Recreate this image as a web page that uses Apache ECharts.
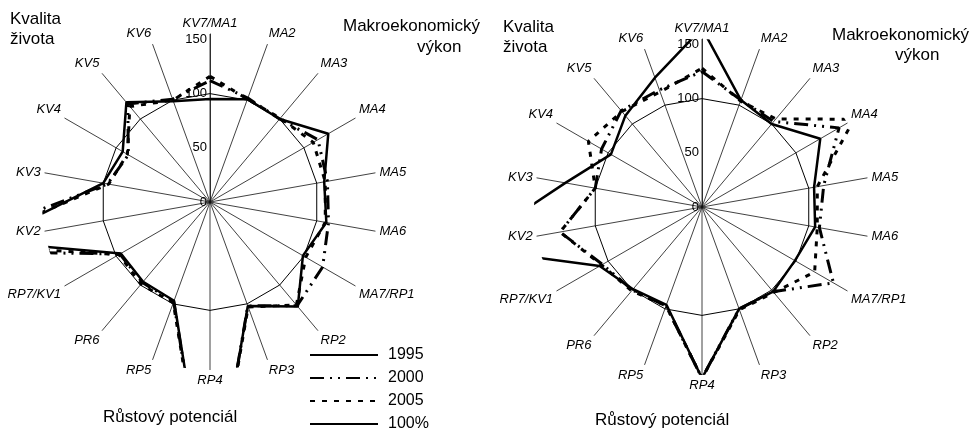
<!DOCTYPE html>
<html lang="cs">
<head>
<meta charset="UTF-8">
<title>Radar 1995-2005</title>
<style>
  html, body { margin: 0; padding: 0; background: #fff; }
  #chart { width: 969px; height: 431px; }
</style>
</head>
<body>
<div id="chart"></div>
<script src="https://cdn.jsdelivr.net/npm/echarts@6/dist/echarts.min.js"></script>
<script>
// osy (po smeru hodinovych rucicek od vrchu)
var osy = ['KV7/MA1', 'MA2', 'MA3', 'MA4', 'MA5', 'MA6', 'MA7/RP1', 'RP2', 'RP3', 'RP4',
           'RP5', 'PR6', 'RP7/KV1', 'KV2', 'KV3', 'KV4', 'KV5', 'KV6'];
var roky = ['1995', '2000', '2005', '100%'];
var osaMax = 155, osaKrok = 50;

// levy graf
var levy1995 = [95, 101, 100, 126, 107, 109, 99, 126, 102, 300, 97, 96, 95, 210, 100, 93, 120, 99];
var levy2000 = [112, 102, 100, 115, 110, 111, 120, 125, 102, 300, 98, 97, 96, 260, 96, 87, 118, 101];
var levy2005 = [116, 101, 101, 110, 108, 108, 102, 124, 103, 300, 99, 99, 97, 230, 95, 88, 115, 100];
// pravy graf
var pravy1995 = [165, 105, 100, 126, 105, 106, 99, 102, 100, 158, 96, 99, 109, 220, 128, 97, 110, 127];
var pravy2000 = [125, 105, 103, 146, 114, 110, 140, 102, 100, 158, 97, 100, 106, 133, 100, 107, 116, 115];
var pravy2005 = [128, 104, 106, 162, 108, 108, 120, 103, 101, 158, 97, 101, 107, 133, 100, 121, 115, 113];
var sto = [100, 100, 100, 100, 100, 100, 100, 100, 100, 100, 100, 100, 100, 100, 100, 100, 100, 100];

var pismo = '"Liberation Sans", Arial, sans-serif';
var styly = {
    '1995': { width: 2.5, type: 'solid' },
    '2000': { width: 3, type: [14, 6, 2, 6, 2, 6] },
    '2005': { width: 3, type: [5, 7] },
    '100%': { width: 1, type: 'solid' }
};

// body [r, uhel] + uzavreni kruhu
function rada(hodnoty) {
    var d = hodnoty.map(function (v, i) { return [v, i]; });
    d.push([hodnoty[0], hodnoty.length]);
    return d;
}

function serie(nazev, hodnoty, idx) {
    return {
        name: nazev,
        type: 'line',
        coordinateSystem: 'polar',
        polarIndex: idx,
        symbol: 'none',
        clip: true,
        silent: true,
        data: rada(hodnoty),
        itemStyle: { color: '#000' },
        lineStyle: { color: '#000', width: styly[nazev].width, type: styly[nazev].type }
    };
}

function uhel(idx) {
    return {
        polarIndex: idx,
        type: 'value',
        min: 0, max: osy.length, interval: 1,
        startAngle: 90,
        axisLine: { show: false },
        axisTick: { show: false },
        splitLine: { show: true, lineStyle: { color: '#111', width: 0.8 } },
        axisLabel: {
            margin: 4,
            color: '#000', fontSize: 13, fontStyle: 'italic', fontFamily: pismo,
            formatter: function (v) { return osy[v] || ''; }
        }
    };
}

function polomer(idx) {
    return {
        polarIndex: idx,
        type: 'value',
        min: 0, max: osaMax, interval: osaKrok,
        axisLine: { show: true, lineStyle: { color: '#111', width: 0.8 } },
        axisTick: { show: false },
        splitLine: { show: false },
        axisLabel: { margin: 3, color: '#000', fontSize: 13, fontFamily: pismo, showMaxLabel: false }
    };
}

function nadpis(t, x, y) {
    return { text: t, left: x, top: y, padding: 0,
             textStyle: { fontSize: 17, fontWeight: 'normal', color: '#000', fontFamily: pismo } };
}

var chart = echarts.init(document.getElementById('chart'));
chart.setOption({
    animation: false,
    title: [
        nadpis('Kvalita', 10, 11), nadpis('života', 10, 31),
        nadpis('Makroekonomický', 343, 18), nadpis('výkon', 417, 39),
        nadpis('Růstový potenciál', 103, 409),
        nadpis('Kvalita', 503, 19), nadpis('života', 503, 39),
        nadpis('Makroekonomický', 832, 27), nadpis('výkon', 895, 47),
        nadpis('Růstový potenciál', 595, 412)
    ],
    legend: {
        data: roky,
        orient: 'vertical',
        left: 309, top: 347, height: 120,
        itemWidth: 68, itemHeight: 15, itemGap: 7,
        selectedMode: false,
        padding: 0,
        itemStyle: { opacity: 0 },
        textStyle: { fontSize: 16, lineHeight: 16, color: '#000', fontFamily: pismo, padding: [0, 0, 0, 5] }
    },
    polar: [
        { center: [210, 202], radius: 168 },
        { center: [702, 207], radius: 168 }
    ],
    angleAxis: [uhel(0), uhel(1)],
    radiusAxis: [polomer(0), polomer(1)],
    series: [
        serie('100%', sto, 0),
        serie('2005', levy2005, 0),
        serie('2000', levy2000, 0),
        serie('1995', levy1995, 0),
        serie('100%', sto, 1),
        serie('2005', pravy2005, 1),
        serie('2000', pravy2000, 1),
        serie('1995', pravy1995, 1)
    ]
});
</script>
</body>
</html>
